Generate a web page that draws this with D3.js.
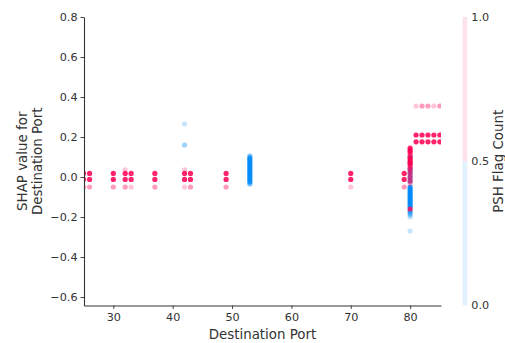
<!DOCTYPE html>
<html>
<head>
<meta charset="utf-8">
<script src="https://cdn.jsdelivr.net/npm/d3@7"></script>
<style>
  body { margin: 0; background: #fff; }
  text { font-family: "DejaVu Sans", sans-serif; fill: #333333; }
</style>
</head>
<body>
<div id="chart"></div>
<script>
// each point: [destination port, shap value, psh flag (0/1), overlap count]
var lowPortPoints = [
  [25, 0.018, 1, 8], [25, -0.012, 1, 8], [25, -0.05, 1, 2],
  [26, 0.018, 1, 8], [26, -0.012, 1, 8], [26, -0.05, 1, 2],
  [30, 0.018, 1, 8], [30, -0.012, 1, 8], [30, -0.05, 1, 2],
  [32, 0.036, 1, 1], [32, 0.018, 1, 8], [32, -0.012, 1, 8], [32, -0.05, 1, 2],
  [33, 0.018, 1, 8], [33, -0.012, 1, 8], [33, -0.05, 1, 1],
  [37, 0.018, 1, 8], [37, -0.012, 1, 8], [37, -0.05, 1, 2],
  [42, 0.265, 0, 1], [42, 0.16, 0, 2], [42, 0.036, 1, 1],
  [42, 0.018, 1, 8], [42, -0.012, 1, 8], [42, -0.05, 1, 1],
  [43, 0.018, 1, 8], [43, -0.012, 1, 8], [43, -0.05, 1, 2],
  [49, 0.018, 1, 8], [49, -0.012, 1, 8], [49, -0.05, 1, 2],
  [70, 0.018, 1, 8], [70, -0.012, 1, 8], [70, -0.05, 1, 1],
  [79, 0.018, 1, 8], [79, -0.012, 1, 8], [79, -0.05, 1, 2]
];

var port53Points = [
  [53, 0.105, 0, 3], [53, 0.095, 0, 8], [53, 0.085, 0, 8], [53, 0.075, 0, 8],
  [53, 0.065, 0, 8], [53, 0.055, 0, 8], [53, 0.045, 0, 8], [53, 0.035, 0, 8],
  [53, 0.025, 0, 8], [53, 0.015, 0, 8], [53, 0.005, 0, 8], [53, -0.005, 0, 8],
  [53, -0.015, 0, 8], [53, -0.025, 0, 6], [53, -0.035, 0, 3]
];

var port80Points = [
  [80, 0.10, 0, 4], [80, 0.07, 0, 4], [80, 0.04, 0, 5], [80, 0.02, 0, 5],
  [80, 0.0, 0, 5], [80, -0.02, 0, 5],
  [80, -0.05, 0, 8], [80, -0.06, 0, 8], [80, -0.07, 0, 8],
  [80, -0.08, 0, 8], [80, -0.09, 0, 8], [80, -0.10, 0, 8], [80, -0.11, 0, 8],
  [80, -0.12, 0, 8], [80, -0.13, 0, 8], [80, -0.14, 0, 8], [80, -0.15, 0, 6],
  [80, -0.17, 0, 4], [80, -0.18, 0, 3], [80, -0.19, 0, 2], [80, -0.20, 0, 1],
  [80, -0.27, 0, 1],
  [80, 0.145, 1, 8], [80, 0.135, 1, 8], [80, 0.125, 1, 8], [80, 0.115, 1, 3],
  [80, 0.105, 1, 3], [80, 0.095, 1, 8], [80, 0.085, 1, 8], [80, 0.075, 1, 8],
  [80, 0.065, 1, 8], [80, 0.055, 1, 4], [80, 0.045, 1, 3], [80, 0.035, 1, 3],
  [80, 0.025, 1, 2], [80, 0.015, 1, 2], [80, 0.005, 1, 2], [80, -0.005, 1, 2],
  [80, -0.015, 1, 2], [80, -0.025, 1, 2], [80, -0.035, 1, 1], [80, -0.16, 1, 6]
];

var highPortPoints = [
  [81, 0.355, 1, 1], [82, 0.355, 1, 2], [83, 0.355, 1, 2], [84, 0.355, 1, 1], [85, 0.355, 1, 2],
  [81, 0.21, 1, 8], [82, 0.21, 1, 8], [83, 0.21, 1, 8], [84, 0.21, 1, 8], [85, 0.21, 1, 8],
  [81, 0.176, 1, 8], [82, 0.176, 1, 8], [83, 0.176, 1, 8], [84, 0.176, 1, 8], [85, 0.176, 1, 8]
];

var xTicks = [30, 40, 50, 60, 70, 80];
var yTicks = [-0.6, -0.4, -0.2, 0.0, 0.2, 0.4, 0.6, 0.8];
var cbTicks = [0.0, 0.5, 1.0];

var allPoints = lowPortPoints.concat(port53Points, port80Points, highPortPoints);

var W = 505, H = 343;
var plot = {left: 84, right: 441, top: 17, bottom: 305.5};

var svg = d3.select("#chart").append("svg")
    .attr("width", W).attr("height", H);

var x = d3.scaleLinear().domain([25.06, 85.2]).range([plot.left, plot.right]);
var y = d3.scaleLinear().domain([-0.6425, 0.8]).range([plot.bottom, plot.top]);
var colorOf = function(flag) { return flag ? "#ff0052" : "#008bfb"; };
// overlapping translucent dots get darker
var alphaOf = function(count) { return 1 - Math.pow(1 - 0.22, count); };

svg.append("clipPath").attr("id", "plotclip")
  .append("rect")
    .attr("x", plot.left).attr("y", plot.top)
    .attr("width", plot.right - plot.left).attr("height", plot.bottom - plot.top);

svg.append("g").attr("clip-path", "url(#plotclip)")
  .selectAll("circle")
  .data(allPoints)
  .enter().append("circle")
    .attr("cx", function(d) { return x(d[0]); })
    .attr("cy", function(d) { return y(d[1]); })
    .attr("r", 2.6)
    .attr("fill", function(d) { return colorOf(d[2]); })
    .attr("fill-opacity", function(d) { return alphaOf(d[3]); });

var minus = function(v) { return v.toFixed(1).replace("-", "\u2212"); };

var yAxis = svg.append("g")
    .attr("transform", "translate(" + plot.left + ",0)")
    .call(d3.axisLeft(y).tickValues(yTicks).tickFormat(minus).tickSize(3.5).tickSizeOuter(0).tickPadding(3));
var xAxis = svg.append("g")
    .attr("transform", "translate(0," + plot.bottom + ")")
    .call(d3.axisBottom(x).tickValues(xTicks).tickFormat(d3.format("d")).tickSize(3.5).tickSizeOuter(0).tickPadding(4));

[yAxis, xAxis].forEach(function(a) {
  a.selectAll("path.domain").attr("stroke", "#333333").attr("stroke-width", 1.1);
  a.selectAll(".tick line").attr("stroke", "#333333").attr("stroke-width", 0.9);
  a.selectAll(".tick text").style("font-size", "11.2px").attr("fill", "#333333");
});

svg.append("text")
    .attr("x", (plot.left + plot.right) / 2).attr("y", 339)
    .attr("text-anchor", "middle").style("font-size", "13.4px")
    .text("Destination Port");

var ylab = svg.append("text")
    .attr("transform", "translate(27," + ((plot.top + plot.bottom) / 2) + ") rotate(-90)")
    .attr("text-anchor", "middle").style("font-size", "13.4px");
ylab.append("tspan").attr("x", 0).attr("dy", 0).text("SHAP value for");
ylab.append("tspan").attr("x", 0).attr("dy", 15).text("Destination Port");

// colour bar
var cb = d3.scaleLinear().domain([0, 1]).range([plot.bottom, plot.top]);
var cbX = 462.5, cbW = 4.8;
svg.append("rect")
    .attr("x", cbX).attr("y", cb(0.5)).attr("width", cbW).attr("height", cb(0) - cb(0.5))
    .attr("fill", "#008bfb").attr("fill-opacity", 0.11);
svg.append("rect")
    .attr("x", cbX).attr("y", cb(1)).attr("width", cbW).attr("height", cb(0.5) - cb(1))
    .attr("fill", "#ff0052").attr("fill-opacity", 0.11);

svg.append("g").selectAll("text")
  .data(cbTicks)
  .enter().append("text")
    .attr("x", cbX + cbW + 4).attr("y", function(d) { return cb(d); })
    .attr("dy", "0.35em").style("font-size", "11.2px")
    .text(function(d) { return d.toFixed(1); });

svg.append("text")
    .attr("transform", "translate(498.5," + ((plot.top + plot.bottom) / 2) + ") rotate(-90)")
    .attr("text-anchor", "middle").attr("dy", "0.35em").style("font-size", "13.4px")
    .text("PSH Flag Count");
</script>
</body>
</html>
